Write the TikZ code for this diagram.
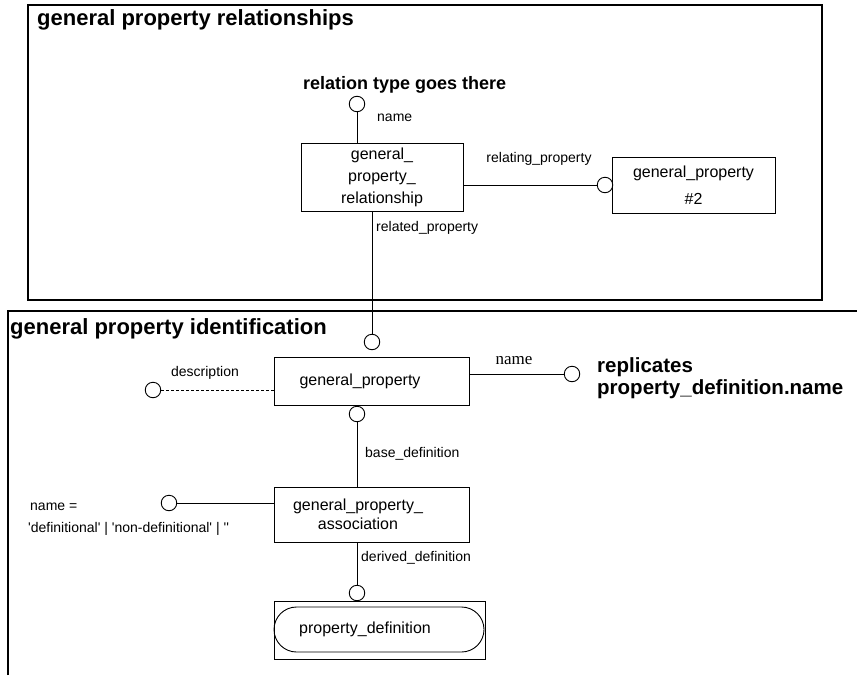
\documentclass[tikz,border=0pt]{standalone}
\usepackage{fontspec}
\newfontfamily\arialfont{Liberation Sans}
\newfontfamily\timesfont{Liberation Serif}

\begin{document}
\begin{tikzpicture}[x=1pt, y=-1pt,
    entity/.style={draw, line width=0.9pt, inner sep=0pt, align=center, font=\arialfont\fontsize{16}{22}\selectfont},
    attr/.style={draw, circle, line width=0.9pt, minimum size=15.5pt, inner sep=0pt},
    lbl/.style={font=\arialfont\fontsize{14}{16}\selectfont, inner sep=0pt},
    heading/.style={font=\arialfont\bfseries\fontsize{22}{22}\selectfont, inner sep=0pt, anchor=west},
    frame/.style={line width=1.3pt}]
    \useasboundingbox (0,0) rectangle (857,675);
    % upper frame
    \draw[frame] (28,5) rectangle (822,300);
    \node[heading] (reltitle) at (37,20) {general property relationships};
    \node[heading, font=\arialfont\bfseries\fontsize{18}{20}\selectfont] (reltype) at (303,85) {relation type goes there};
    \node[attr] (rtname) at (357,104) {};
    \node[lbl, anchor=west] (rtlbl) at (377,118) {name};
    \node[entity, minimum width=162, minimum height=68] (gpr) at (382,177) {general\_\\property\_\\relationship};
    \draw (rtname) -- (rtname |- gpr.north);
    \node[entity, minimum width=163, minimum height=56] (gp2) at (693.5,185) {general\_property\\[5pt]\#2};
    \node[attr] (gp2att) at (605,185) {};
    \node[lbl] (rellbl) at (539,159) {relating\_property};
    \draw (gpr.east |- gp2att) -- (gp2att);
    \node[lbl, anchor=west] (rdlbl) at (376,228) {related\_property};
    \node[attr] (gpatt) at (372,342) {};
    \draw (gpr.south -| gpatt) -- (gpatt);
    % lower frame
    \draw[frame] (8,675) -- (8,311) -- (857,311);
    \node[heading] (idtitle) at (10,329) {general property identification};
    \node[entity, minimum width=195, minimum height=48] (gp) at (371.5,381) {general\_property\hspace*{23pt}};
    \node[attr] (descatt) at (153,390) {};
    \node[lbl] (desclbl) at (205,373) {description};
    \draw[dash pattern=on 3pt off 2pt] (descatt) -- (descatt -| gp.west);
    \node[attr] (nameatt) at (572,374) {};
    \node[font=\timesfont\fontsize{17}{20}\selectfont, inner sep=0pt] (namelbl) at (514,361) {name};
    \draw (gp.east |- nameatt) -- (nameatt);
    \node[heading, align=left, font=\arialfont\bfseries\fontsize{20.5}{22}\selectfont] (repl) at (597,378) {replicates\\property\_definition.name};
    \node[attr] (baseatt) at (357,414) {};
    \node[entity, minimum width=195, minimum height=55, font=\arialfont\fontsize{16}{19}\selectfont] (gpa) at (371.5,514.5) {general\_property\_\hspace*{27pt}\\association\hspace*{27pt}};
    \draw (baseatt) -- (baseatt |- gpa.north);
    \node[lbl, anchor=west] (baselbl) at (365,454) {base\_definition};
    \node[attr] (assocatt) at (169,503) {};
    \draw (assocatt) -- (assocatt -| gpa.west);
    \node[lbl, anchor=west] (anamelbl) at (30,507) {name =};
    \node[lbl, anchor=west] (avallbl) at (28,529) {'definitional' | 'non-definitional' | ''};
    \node[attr] (derivatt) at (357,593) {};
    \draw (gpa.south -| derivatt) -- (derivatt);
    \node[lbl, anchor=west] (derivlbl) at (361,558) {derived\_definition};
    \node[draw, line width=0.9pt, minimum width=211, minimum height=58, inner sep=0pt] (pdbox) at (379.5,630) {};
    \node[draw, line width=0.9pt, rounded corners=22.5pt, minimum width=210, minimum height=45, inner sep=0pt, font=\arialfont\fontsize{16}{19}\selectfont] (pd) at (379,629.5) {property\_definition\hspace*{28pt}};
\end{tikzpicture}
\end{document}
